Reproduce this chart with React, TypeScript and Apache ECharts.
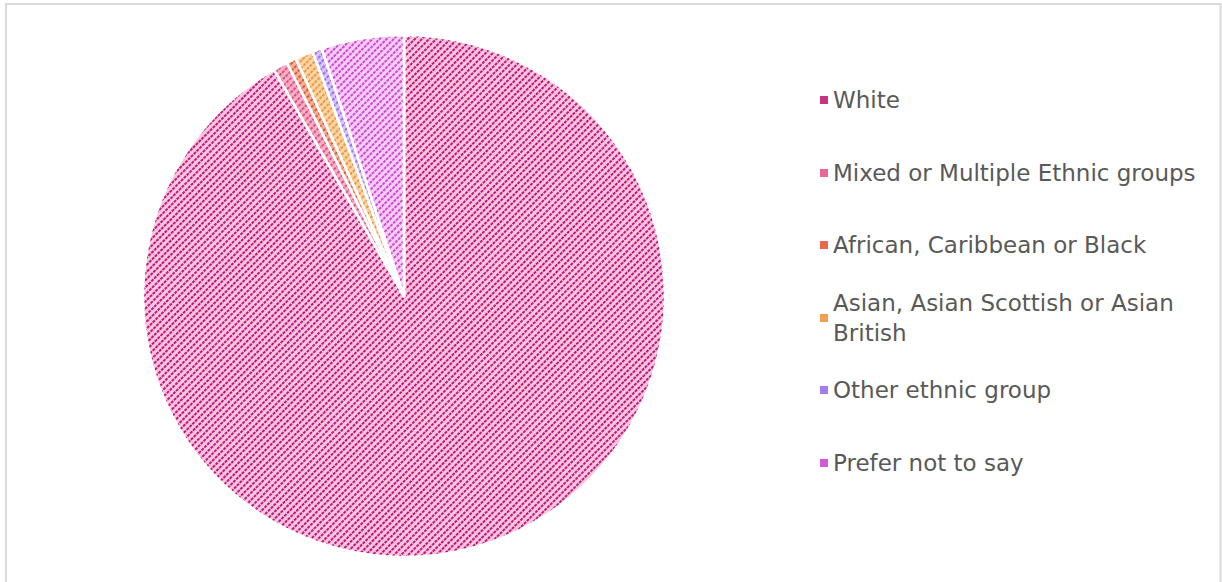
import React, { useEffect, useRef } from "react";
import * as echarts from "echarts";

const categories = [
  "White",
  "Mixed or Multiple Ethnic groups",
  "African, Caribbean or Black",
  "Asian, Asian Scottish or Asian British",
  "Other ethnic group",
  "Prefer not to say",
];
const values = [91.7, 0.9, 0.6, 1.1, 0.6, 5.1];
const baseColors = ["#f9c6e0", "#f7aec7", "#f3b09a", "#fad4a8", "#d6c6fa", "#f7cef7"];
const patternColors = ["#c2177a", "#e0507f", "#e05a32", "#ec9a3c", "#9a6ef0", "#d04ad0"];
const iconColors = ["#c8347f", "#e86a93", "#e46a4a", "#f0a050", "#a57cf0", "#d35ad8"];
const legendTops = [85, 158, 230, 273, 375, 448];

export default function App() {
  const ref = useRef<HTMLDivElement>(null);
  useEffect(() => {
    if (!ref.current) return;
    const chart = echarts.init(ref.current, null, { renderer: "svg" });
    const legends = categories.map((name, i) => {
      const multi = i === 3;
      return {
        orient: "vertical",
        left: 820,
        top: legendTops[i],
        padding: 0,
        icon: "rect",
        itemWidth: 8,
        itemHeight: 8,
        selectedMode: false,
        data: [{ name, itemStyle: { color: iconColors[i], decal: "none", borderWidth: 0 } }],
        formatter: multi ? () => "Asian, Asian Scottish or Asian\nBritish" : undefined,
        textStyle: {
          fontFamily: "DejaVu Sans",
          fontSize: 23,
          color: "#595959",
          lineHeight: 30,
          padding: multi ? [30, 0, 0, 0] : 0,
        },
      };
    });
    chart.setOption({
      animation: false,
      backgroundColor: "#ffffff",
      legend: legends,
      graphic: [
        {
          type: "rect",
          shape: { x: 6, y: 4, width: 1214.5, height: 620 },
          style: { fill: "none", stroke: "#d9d9d9", lineWidth: 2 },
          silent: true,
        },
      ],
      series: [
        {
          type: "pie",
          center: [404, 296],
          radius: 261,
          startAngle: 90,
          clockwise: true,
          label: { show: false },
          labelLine: { show: false },
          emphasis: { disabled: true },
          data: categories.map((name, i) => ({
            name,
            value: values[i],
            itemStyle: {
              color: baseColors[i],
              borderColor: "#ffffff",
              borderWidth: 2.5,
              decal: {
                symbol: "rect",
                symbolSize: 1,
                color: patternColors[i],
                dashArrayX: [2.2, 0.8],
                dashArrayY: [1.6, 2.7],
                rotation: -Math.PI / 4,
              },
            },
          })),
        },
      ],
    });
    return () => chart.dispose();
  }, []);
  return (
    <div
      ref={ref}
      style={{ position: "absolute", left: 0, top: 0, width: 1222, height: 582 }}
    />
  );
}
